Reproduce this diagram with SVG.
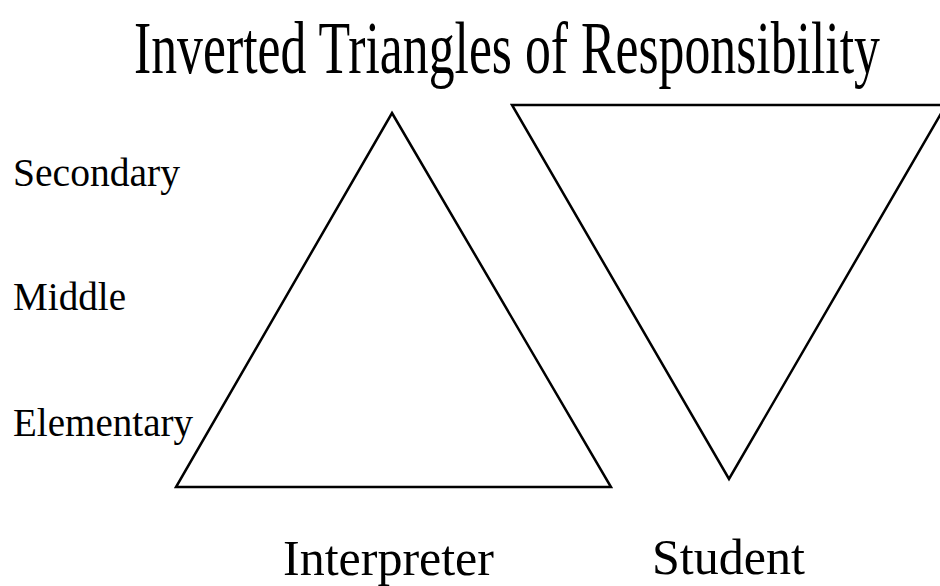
<svg xmlns="http://www.w3.org/2000/svg" width="940" height="586" viewBox="0 0 940 586">
<style>
text{font-family:"Liberation Serif","Times New Roman",serif;fill:#000}
.tri{fill:none;stroke:#000;stroke-width:2.5;stroke-linejoin:miter}
.lvl{font-size:39px}
.big{font-size:50px}
</style>
<rect width="940" height="586" fill="#fff"/>
<text id="title" transform="translate(134,73) scale(1,1.45)" x="0" y="0" font-size="51" textLength="746" lengthAdjust="spacingAndGlyphs">Inverted Triangles of Responsibility</text>
<g id="levels">
<text class="lvl" x="13" y="186" textLength="167" lengthAdjust="spacingAndGlyphs">Secondary</text>
<text class="lvl" x="13" y="310" textLength="113" lengthAdjust="spacingAndGlyphs">Middle</text>
<text class="lvl" x="13" y="436" textLength="180" lengthAdjust="spacingAndGlyphs">Elementary</text>
</g>
<g id="interpreter">
<polygon class="tri" points="392,113 611,487 176,487"/>
<text class="big" x="283" y="575">Interpreter</text>
</g>
<g id="student">
<polygon class="tri" points="512,105 946,105 729,479"/>
<text class="big" x="652" y="574" textLength="153" lengthAdjust="spacingAndGlyphs">Student</text>
</g>
<g id="connectors"></g>
</svg>
